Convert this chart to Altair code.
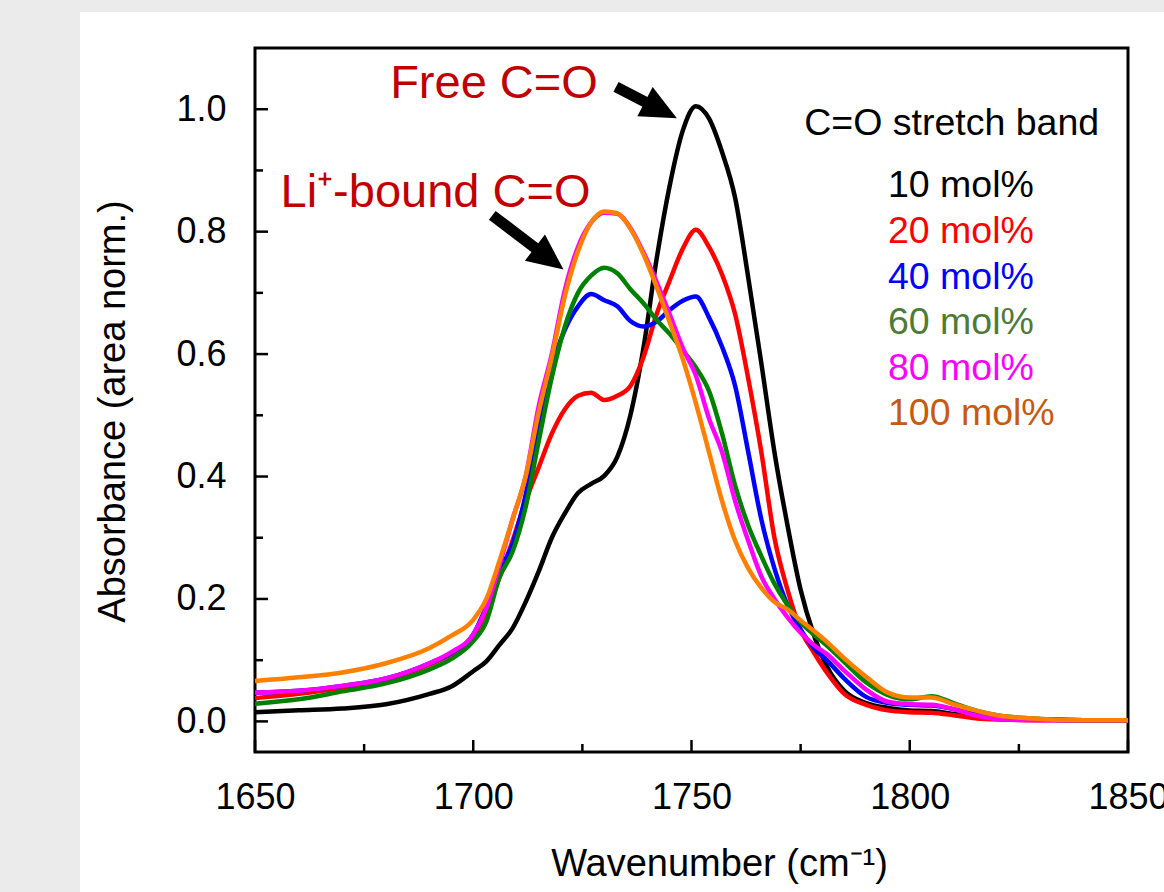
import altair as alt
import pandas as pd

# ---------------- data ----------------
wavenumber = [1650, 1660, 1670, 1680, 1690, 1695, 1700, 1703, 1706, 1709,
              1712, 1715, 1718, 1721, 1724, 1727, 1730, 1733, 1736, 1739,
              1742, 1745, 1748, 1751, 1754, 1757, 1760, 1763, 1766, 1769,
              1772, 1775, 1778, 1781, 1785, 1790, 1795, 1800, 1805, 1810,
              1815, 1820, 1830, 1840, 1850]

abs_10 = [0.015, 0.018, 0.021, 0.028, 0.045, 0.057, 0.082, 0.098, 0.125, 0.152,
          0.195, 0.245, 0.300, 0.340, 0.373, 0.388, 0.401, 0.432, 0.500, 0.610,
          0.755, 0.875, 0.965, 1.005, 0.985, 0.930, 0.855, 0.725, 0.585, 0.440,
          0.320, 0.215, 0.142, 0.090, 0.050, 0.030, 0.022, 0.018, 0.017, 0.012,
          0.008, 0.005, 0.003, 0.002, 0.002]

abs_20 = [0.038, 0.045, 0.055, 0.067, 0.093, 0.110, 0.138, 0.180, 0.235, 0.295,
          0.360, 0.415, 0.470, 0.510, 0.532, 0.537, 0.525, 0.532, 0.548, 0.595,
          0.665, 0.720, 0.772, 0.803, 0.775, 0.730, 0.665, 0.560, 0.440, 0.300,
          0.215, 0.150, 0.113, 0.080, 0.045, 0.027, 0.018, 0.015, 0.014, 0.010,
          0.005, 0.003, 0.002, 0.002, 0.002]

abs_40 = [0.047, 0.050, 0.058, 0.070, 0.095, 0.112, 0.142, 0.188, 0.245, 0.290,
          0.370, 0.480, 0.580, 0.640, 0.678, 0.698, 0.688, 0.678, 0.654, 0.645,
          0.653, 0.672, 0.687, 0.694, 0.660, 0.612, 0.548, 0.440, 0.330, 0.250,
          0.190, 0.150, 0.120, 0.100, 0.070, 0.040, 0.030, 0.027, 0.026, 0.020,
          0.012, 0.005, 0.003, 0.002, 0.002]

abs_60 = [0.029, 0.036, 0.049, 0.062, 0.085, 0.102, 0.131, 0.163, 0.235, 0.277,
          0.350, 0.458, 0.562, 0.645, 0.700, 0.728, 0.741, 0.732, 0.706, 0.683,
          0.656, 0.633, 0.606, 0.578, 0.540, 0.470, 0.385, 0.320, 0.270, 0.225,
          0.190, 0.162, 0.142, 0.124, 0.097, 0.064, 0.043, 0.036, 0.041, 0.030,
          0.018, 0.010, 0.004, 0.002, 0.002]

abs_80 = [0.047, 0.050, 0.058, 0.070, 0.095, 0.113, 0.142, 0.185, 0.255, 0.330,
          0.400, 0.515, 0.600, 0.705, 0.775, 0.815, 0.831, 0.829, 0.806, 0.766,
          0.718, 0.665, 0.610, 0.565, 0.495, 0.440, 0.360, 0.295, 0.237, 0.200,
          0.170, 0.145, 0.125, 0.110, 0.083, 0.052, 0.032, 0.028, 0.027, 0.020,
          0.010, 0.004, 0.002, 0.002, 0.002]

abs_100 = [0.066, 0.072, 0.080, 0.095, 0.120, 0.140, 0.166, 0.200, 0.262, 0.330,
           0.400, 0.505, 0.595, 0.695, 0.768, 0.815, 0.833, 0.830, 0.805, 0.763,
           0.710, 0.652, 0.592, 0.520, 0.440, 0.360, 0.295, 0.250, 0.218, 0.195,
           0.183, 0.165, 0.148, 0.130, 0.103, 0.073, 0.047, 0.039, 0.039, 0.028,
           0.018, 0.010, 0.004, 0.002, 0.002]

series_labels = ["10 mol%", "20 mol%", "40 mol%", "60 mol%", "80 mol%", "100 mol%"]
series_values = [abs_10, abs_20, abs_40, abs_60, abs_80, abs_100]
line_colors = ["#000000", "#ff0000", "#0000ff", "#008000", "#ff00ff", "#ff8000"]
label_colors = ["#000000", "#ff0000", "#0000ff", "#4e7b36", "#ff00ff", "#c55a11"]

x_major = [1650, 1700, 1750, 1800, 1850]
x_minor = [1675, 1725, 1775, 1825]
y_major = [0.0, 0.2, 0.4, 0.6, 0.8, 1.0]
y_minor = [0.1, 0.3, 0.5, 0.7, 0.9]

legend_title = "C=O stretch band"
note_free = "Free C=O"
note_bound = "Li\u207a-bound C=O"

# ---------------- layout / style ----------------
W, H = 873, 704
PAD_L, PAD_T, PAD_R, PAD_B = 255, 48, 36, 140
FONT = "Liberation Sans"
NOTE_RED = "#c00000"

xs = alt.Scale(domain=[1650, 1850], nice=False, zero=False)
ys = alt.Scale(domain=[-0.05, 1.1], nice=False, zero=False)

x_axis = alt.Axis(values=x_major, format="d", title="Wavenumber (cm\u207b\u00b9)",
                  domain=False, ticks=False, tickSize=0, grid=False,
                  labelFont=FONT, labelFontSize=36, labelColor="black",
                  labelPadding=28, labelFlush=False, labelOverlap=False,
                  titleFont=FONT, titleFontSize=38, titleFontWeight="normal",
                  titleColor="black", titleX=464, titleY=123,
                  titleBaseline="alphabetic", titleAlign="center")
y_axis = alt.Axis(values=y_major, format=".1f", title="Absorbance (area norm.)",
                  domain=False, ticks=False, tickSize=0, grid=False,
                  labelFont=FONT, labelFontSize=36, labelColor="black",
                  labelPadding=29, labelFlush=False, labelOverlap=False,
                  titleFont=FONT, titleFontSize=38, titleFontWeight="normal",
                  titleColor="black", titleAngle=270, titleX=-131, titleY=363,
                  titleBaseline="alphabetic", titleAlign="center")


def X(field):
    return alt.X(field, scale=xs, axis=x_axis)


def Y(field):
    return alt.Y(field, scale=ys, axis=y_axis)


layers = []
one = pd.DataFrame({"k": [0]})

# grey page margin (outside the white figure panel)
layers.append(alt.Chart(one).mark_rect(color="#ebebeb").encode(
    x=alt.value(-PAD_L), x2=alt.value(-PAD_L + 80),
    y=alt.value(-PAD_T), y2=alt.value(H + PAD_B)))
layers.append(alt.Chart(one).mark_rect(color="#ebebeb").encode(
    x=alt.value(-PAD_L), x2=alt.value(W + PAD_R),
    y=alt.value(-PAD_T), y2=alt.value(-PAD_T + 12)))

# spectra
for lab, col, vals in zip(series_labels, line_colors, series_values):
    d = pd.DataFrame({"wn": wavenumber, "A": vals, "series": lab})
    layers.append(alt.Chart(d).mark_line(color=col, strokeWidth=4.5,
                                         interpolate="monotone").encode(
        x=X("wn:Q"), y=Y("A:Q")))

# inward ticks
for vals, ln in ((x_major, 12), (x_minor, 8)):
    layers.append(alt.Chart(pd.DataFrame({"wn": vals})).mark_rule(
        color="black", strokeWidth=2.5).encode(
        x=X("wn:Q"), y=alt.value(H), y2=alt.value(H - ln)))
for vals, ln in ((y_major, 13), (y_minor, 8)):
    layers.append(alt.Chart(pd.DataFrame({"A": vals})).mark_rule(
        color="black", strokeWidth=2.5).encode(
        y=Y("A:Q"), x=alt.value(0), x2=alt.value(ln)))

# annotations
notes = pd.DataFrame({"wn": [1704.75, 1691.35], "A": [1.018, 0.841],
                      "txt": [note_free, note_bound]})
layers.append(alt.Chart(notes).mark_text(
    font=FONT, fontSize=47, color=NOTE_RED, align="center",
    baseline="alphabetic").encode(x=X("wn:Q"), y=Y("A:Q"), text="txt:N"))

# arrows: shaft + head
shafts = [((1732.7, 1.0366), (1743.0, 0.9987)), ((1704.36, 0.8267), (1717.4, 0.756))]
heads = [(1743.0, 0.9987, 27.6), (1717.4, 0.756, 37.4)]
for (p0, p1) in shafts:
    d = pd.DataFrame({"wn": [p0[0], p1[0]], "A": [p0[1], p1[1]]})
    layers.append(alt.Chart(d).mark_line(color="black", strokeWidth=11,
                                         strokeCap="butt").encode(
        x=X("wn:Q"), y=Y("A:Q")))
for (hx, hy, ang) in heads:
    d = pd.DataFrame({"wn": [hx], "A": [hy]})
    layers.append(alt.Chart(d).mark_point(
        shape="M -1 -0.92 L 1 0 L -1 0.92 Z", filled=True, color="black",
        opacity=1, size=1296, angle=ang, strokeWidth=0).encode(
        x=X("wn:Q"), y=Y("A:Q")))

# text legend
layers.append(alt.Chart(pd.DataFrame({"wn": [1809.6], "A": [0.958],
                                      "txt": [legend_title]})).mark_text(
    font=FONT, fontSize=37.5, color="black", align="center",
    baseline="alphabetic").encode(x=X("wn:Q"), y=Y("A:Q"), text="txt:N"))
for i, (lab, col) in enumerate(zip(series_labels, label_colors)):
    d = pd.DataFrame({"wn": [1795.0], "A": [0.856 - 0.0745 * i], "txt": [lab]})
    layers.append(alt.Chart(d).mark_text(
        font=FONT, fontSize=37.5, color=col, align="left",
        baseline="alphabetic").encode(x=X("wn:Q"), y=Y("A:Q"), text="txt:N"))

chart = alt.layer(*layers).properties(
    width=W, height=H,
    autosize=alt.AutoSizeParams(type="none"),
    padding={"left": PAD_L, "top": PAD_T, "right": PAD_R, "bottom": PAD_B},
    background="white",
).configure_view(stroke="black", strokeWidth=3)

chart.save("out.html", embed_options={"renderer": "svg", "actions": False})
